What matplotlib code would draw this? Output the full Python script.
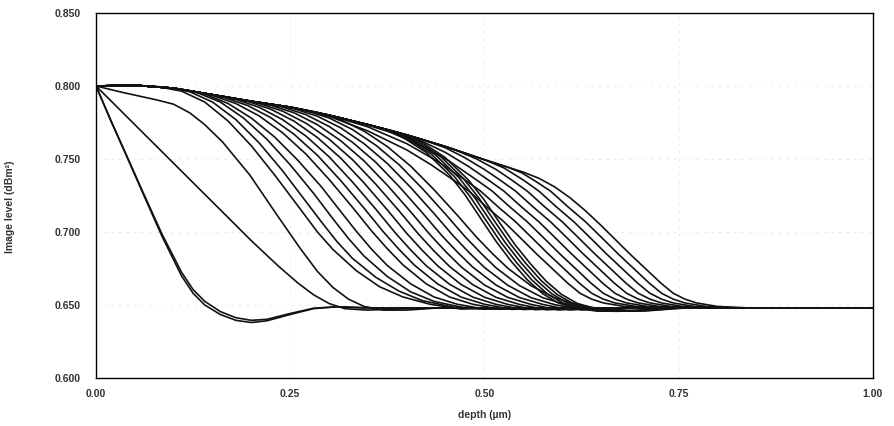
import matplotlib
matplotlib.use("Agg")
import matplotlib.pyplot as plt

# ---------------- data ----------------
x_ticks = [0.00, 0.25, 0.50, 0.75, 1.00]
y_ticks = [0.600, 0.650, 0.700, 0.750, 0.800, 0.850]
x_label = "depth (µm)"
y_label = "Image level (dBm²)"
floor_level = 0.648

# common upper envelope followed by every curve before it drops
envelope = [(0.00, 0.8000), (0.05, 0.8005), (0.10, 0.7985), (0.15, 0.7940), (0.20, 0.7895),
            (0.25, 0.7855), (0.30, 0.7800), (0.35, 0.7735), (0.40, 0.7665), (0.45, 0.7585),
            (0.50, 0.7495), (0.55, 0.7410)]

curve_a1 = [(0.00, 0.800), (0.02, 0.775), (0.041, 0.750), (0.06, 0.727), (0.085, 0.697), (0.11, 0.670),
            (0.125, 0.658), (0.14, 0.650), (0.16, 0.6435), (0.18, 0.6395), (0.20, 0.638), (0.22, 0.6392),
            (0.25, 0.6435), (0.28, 0.6475), (0.31, 0.6488), (0.35, 0.648)]
curve_a2 = [(0.00, 0.800), (0.02, 0.7755), (0.041, 0.7505), (0.06, 0.7278), (0.085, 0.6985), (0.11, 0.6725),
            (0.125, 0.6605), (0.14, 0.6525), (0.16, 0.6455), (0.18, 0.6413), (0.20, 0.6395), (0.22, 0.6402),
            (0.25, 0.6442), (0.28, 0.6478), (0.31, 0.6488), (0.35, 0.648)]
curve_b = [(0.00, 0.800), (0.05, 0.7735), (0.10, 0.747), (0.15, 0.7205), (0.20, 0.694), (0.235, 0.6765),
           (0.26, 0.665), (0.28, 0.657), (0.30, 0.651), (0.32, 0.6475), (0.35, 0.6465), (0.40, 0.6475),
           (0.45, 0.648)]
curve_c = [(0.00, 0.800), (0.035, 0.7955), (0.078, 0.7905), (0.10, 0.7875), (0.121, 0.7815), (0.14, 0.7735),
           (0.163, 0.7616), (0.198, 0.739), (0.233, 0.7116), (0.2625, 0.689), (0.285, 0.673), (0.305, 0.662),
           (0.325, 0.654), (0.345, 0.649), (0.37, 0.6465), (0.40, 0.6465), (0.44, 0.648)]

curve_d1 = [(0.08, 0.7995), (0.11, 0.7965), (0.14, 0.789), (0.17, 0.776), (0.20, 0.759), (0.23, 0.739),
            (0.2625, 0.716), (0.285, 0.700), (0.305, 0.688), (0.335, 0.6735), (0.365, 0.6625), (0.395, 0.6555),
            (0.43, 0.6505), (0.47, 0.6472), (0.52, 0.648)]
curve_d2 = [(0.09, 0.7992), (0.12, 0.7962), (0.15, 0.789), (0.18, 0.777), (0.21, 0.761), (0.24, 0.742),
            (0.27, 0.721), (0.29, 0.707), (0.31, 0.6935), (0.33, 0.682), (0.36, 0.669), (0.39, 0.6595),
            (0.42, 0.653), (0.46, 0.6485), (0.50, 0.6472), (0.55, 0.648)]
curve_d3 = [(0.10, 0.7985), (0.13, 0.7955), (0.16, 0.789), (0.19, 0.778), (0.22, 0.7635), (0.25, 0.746),
            (0.28, 0.7265), (0.305, 0.709), (0.325, 0.6955), (0.345, 0.6835), (0.375, 0.6695), (0.405, 0.659),
            (0.435, 0.6525), (0.47, 0.6485), (0.51, 0.6472), (0.56, 0.648)]
curve_d4 = [(0.11, 0.7977), (0.14, 0.7945), (0.17, 0.788), (0.20, 0.778), (0.23, 0.765), (0.26, 0.749),
            (0.29, 0.731), (0.315, 0.714), (0.335, 0.7005), (0.355, 0.688), (0.375, 0.677), (0.405, 0.6645),
            (0.435, 0.6555), (0.465, 0.6505), (0.50, 0.6472), (0.55, 0.648)]
curve_d5 = [(0.12, 0.7968), (0.15, 0.7935), (0.18, 0.7880), (0.21, 0.7795), (0.24, 0.7680), (0.27, 0.7535),
            (0.30, 0.7360), (0.33, 0.7170), (0.355, 0.7005), (0.375, 0.6885), (0.395, 0.6775), (0.425, 0.6645),
            (0.455, 0.6555), (0.485, 0.6505), (0.52, 0.6471), (0.57, 0.648)]
curve_d6 = [(0.135, 0.7954), (0.165, 0.7921), (0.195, 0.7867), (0.225, 0.7783), (0.255, 0.7669), (0.285, 0.7525),
            (0.315, 0.7352), (0.345, 0.7163), (0.37, 0.7000), (0.39, 0.6881), (0.41, 0.6772), (0.44, 0.6643),
            (0.47, 0.6554), (0.50, 0.6505), (0.535, 0.6470), (0.585, 0.648)]
curve_d7 = [(0.15, 0.7940), (0.18, 0.7908), (0.21, 0.7854), (0.24, 0.7770), (0.27, 0.7658), (0.30, 0.7515),
            (0.33, 0.7343), (0.36, 0.7157), (0.385, 0.6995), (0.405, 0.6877), (0.425, 0.6769), (0.455, 0.6642),
            (0.485, 0.6554), (0.515, 0.6504), (0.55, 0.6469), (0.60, 0.648)]
curve_d8 = [(0.165, 0.7927), (0.195, 0.7895), (0.225, 0.7841), (0.255, 0.7759), (0.285, 0.7647), (0.315, 0.7506),
            (0.345, 0.7336), (0.375, 0.7151), (0.40, 0.6990), (0.42, 0.6874), (0.44, 0.6767), (0.47, 0.6640),
            (0.50, 0.6553), (0.53, 0.6504), (0.565, 0.6468), (0.615, 0.648)]
curve_d9 = [(0.18, 0.7913), (0.21, 0.7881), (0.24, 0.7828), (0.27, 0.7746), (0.30, 0.7636), (0.33, 0.7496),
            (0.36, 0.7328), (0.39, 0.7145), (0.415, 0.6986), (0.435, 0.6870), (0.455, 0.6764), (0.485, 0.6639),
            (0.515, 0.6552), (0.545, 0.6504), (0.58, 0.6467), (0.63, 0.648)]
curve_d10 = [(0.195, 0.7900), (0.225, 0.7868), (0.255, 0.7816), (0.285, 0.7735), (0.315, 0.7625), (0.345, 0.7487),
             (0.375, 0.7320), (0.405, 0.7138), (0.43, 0.6981), (0.45, 0.6866), (0.47, 0.6761), (0.50, 0.6637),
             (0.53, 0.6552), (0.56, 0.6504), (0.595, 0.6466), (0.645, 0.648)]
curve_d11 = [(0.21, 0.7887), (0.24, 0.7856), (0.27, 0.7804), (0.30, 0.7723), (0.33, 0.7615), (0.36, 0.7478),
             (0.39, 0.7312), (0.42, 0.7132), (0.445, 0.6976), (0.465, 0.6863), (0.485, 0.6759), (0.515, 0.6636),
             (0.545, 0.6551), (0.575, 0.6504), (0.61, 0.6466), (0.66, 0.648)]
curve_d12 = [(0.225, 0.7875), (0.255, 0.7844), (0.285, 0.7793), (0.315, 0.7713), (0.345, 0.7605), (0.375, 0.7469),
             (0.405, 0.7305), (0.435, 0.7127), (0.46, 0.6972), (0.48, 0.6860), (0.50, 0.6757), (0.53, 0.6635),
             (0.56, 0.6550), (0.59, 0.6503), (0.625, 0.6466), (0.675, 0.648)]
curve_d13 = [(0.24, 0.7863), (0.27, 0.7832), (0.30, 0.7781), (0.33, 0.7702), (0.36, 0.7595), (0.39, 0.7461),
             (0.42, 0.7298), (0.45, 0.7121), (0.475, 0.6968), (0.495, 0.6857), (0.515, 0.6754), (0.545, 0.6633),
             (0.575, 0.6550), (0.605, 0.6503), (0.64, 0.6466), (0.69, 0.648)]
curve_d14 = [(0.255, 0.7850), (0.285, 0.7820), (0.315, 0.7769), (0.345, 0.7691), (0.375, 0.7585), (0.405, 0.7451),
             (0.435, 0.7290), (0.465, 0.7115), (0.49, 0.6963), (0.51, 0.6853), (0.53, 0.6752), (0.56, 0.6632),
             (0.59, 0.6549), (0.62, 0.6503), (0.655, 0.6466), (0.705, 0.648)]

band_1 = [(0.365, 0.7714), (0.395, 0.7648), (0.425, 0.7545), (0.455, 0.7390), (0.475, 0.7254), (0.495, 0.7094),
          (0.515, 0.6935), (0.535, 0.6795), (0.555, 0.6673), (0.575, 0.6577), (0.595, 0.6514), (0.615, 0.648),
          (0.645, 0.6458), (0.685, 0.646), (0.735, 0.648)]
band_2 = [(0.371, 0.7706), (0.401, 0.7639), (0.431, 0.7536), (0.461, 0.7381), (0.481, 0.7246), (0.501, 0.7087),
          (0.521, 0.6930), (0.541, 0.6792), (0.561, 0.6671), (0.581, 0.6576), (0.601, 0.6514), (0.621, 0.648),
          (0.651, 0.6458), (0.691, 0.646), (0.741, 0.648)]
band_3 = [(0.377, 0.7698), (0.407, 0.7631), (0.437, 0.7528), (0.467, 0.7373), (0.487, 0.7238), (0.507, 0.7080),
          (0.527, 0.6925), (0.547, 0.6789), (0.567, 0.6669), (0.587, 0.6575), (0.607, 0.6513), (0.627, 0.648),
          (0.657, 0.6458), (0.697, 0.646), (0.747, 0.648)]
band_4 = [(0.383, 0.7690), (0.413, 0.7623), (0.443, 0.7520), (0.473, 0.7365), (0.493, 0.7231), (0.513, 0.7073),
          (0.533, 0.6920), (0.553, 0.6786), (0.573, 0.6667), (0.593, 0.6574), (0.613, 0.6512), (0.633, 0.648),
          (0.663, 0.6457), (0.703, 0.646), (0.753, 0.648)]
band_5 = [(0.389, 0.7682), (0.419, 0.7615), (0.449, 0.7512), (0.479, 0.7358), (0.499, 0.7224), (0.519, 0.7067),
          (0.539, 0.6915), (0.559, 0.6783), (0.579, 0.6665), (0.599, 0.6573), (0.619, 0.6512), (0.639, 0.648),
          (0.669, 0.6457), (0.709, 0.646), (0.759, 0.648)]

fan_1 = [(0.26, 0.7844), (0.30, 0.7792), (0.35, 0.7692), (0.40, 0.7562), (0.43, 0.7465), (0.46, 0.7356),
         (0.48, 0.728), (0.503, 0.717), (0.525, 0.707), (0.545, 0.6966), (0.567, 0.685), (0.589, 0.674),
         (0.607, 0.665), (0.623, 0.658), (0.638, 0.654), (0.653, 0.6514), (0.68, 0.649), (0.72, 0.648)]
fan_2 = [(0.30, 0.780), (0.35, 0.772), (0.40, 0.7605), (0.44, 0.7483), (0.475, 0.7356),
         (0.495, 0.728), (0.518, 0.717), (0.54, 0.707), (0.56, 0.6966), (0.582, 0.685), (0.604, 0.674),
         (0.622, 0.665), (0.638, 0.658), (0.653, 0.654), (0.668, 0.6514), (0.695, 0.649), (0.735, 0.648)]
fan_3 = [(0.34, 0.7748), (0.38, 0.7682), (0.42, 0.7588), (0.455, 0.7484), (0.49, 0.7356),
         (0.51, 0.728), (0.533, 0.717), (0.555, 0.707), (0.575, 0.6966), (0.597, 0.685), (0.619, 0.674),
         (0.637, 0.665), (0.653, 0.658), (0.668, 0.654), (0.683, 0.6514), (0.71, 0.649), (0.75, 0.648)]
fan_4 = [(0.38, 0.7693), (0.42, 0.762), (0.45, 0.7544), (0.48, 0.7447), (0.505, 0.7356),
         (0.525, 0.728), (0.548, 0.717), (0.57, 0.707), (0.59, 0.6966), (0.612, 0.685), (0.634, 0.674),
         (0.652, 0.665), (0.668, 0.658), (0.683, 0.654), (0.698, 0.6514), (0.725, 0.649), (0.765, 0.648)]
fan_5 = [(0.42, 0.7633), (0.45, 0.7576), (0.475, 0.7508), (0.50, 0.7428), (0.52, 0.7356),
         (0.54, 0.728), (0.563, 0.717), (0.585, 0.707), (0.605, 0.6966), (0.627, 0.685), (0.649, 0.674),
         (0.667, 0.665), (0.683, 0.658), (0.698, 0.654), (0.713, 0.6514), (0.74, 0.649), (0.78, 0.648)]
fan_6 = [(0.46, 0.7567), (0.49, 0.750), (0.515, 0.7428), (0.535, 0.7356),
         (0.555, 0.728), (0.578, 0.717), (0.60, 0.707), (0.62, 0.6966), (0.642, 0.685), (0.664, 0.674),
         (0.682, 0.665), (0.698, 0.658), (0.713, 0.654), (0.728, 0.6514), (0.755, 0.649), (0.795, 0.648)]
fan_7 = [(0.50, 0.7495), (0.525, 0.7439), (0.55, 0.7356),
         (0.57, 0.728), (0.593, 0.717), (0.615, 0.707), (0.635, 0.6966), (0.657, 0.685), (0.679, 0.674),
         (0.697, 0.665), (0.713, 0.658), (0.728, 0.654), (0.743, 0.6514), (0.77, 0.649), (0.81, 0.648)]
fan_8 = [(0.53, 0.7444), (0.548, 0.7405), (0.565, 0.7350),
         (0.585, 0.728), (0.608, 0.717), (0.63, 0.707), (0.65, 0.6966), (0.672, 0.685), (0.694, 0.674),
         (0.712, 0.665), (0.728, 0.658), (0.743, 0.654), (0.758, 0.6514), (0.785, 0.649), (0.825, 0.648)]
fan_9 = [(0.55, 0.7410), (0.57, 0.7368), (0.59, 0.7310), (0.61, 0.7235), (0.63, 0.7145), (0.65, 0.7045),
         (0.665, 0.6966), (0.687, 0.685), (0.709, 0.674), (0.727, 0.665), (0.743, 0.658), (0.758, 0.654),
         (0.773, 0.6514), (0.80, 0.649), (0.84, 0.648)]

curves = [curve_a1, curve_a2, curve_b, curve_c,
          curve_d1, curve_d2, curve_d3, curve_d4, curve_d5, curve_d6, curve_d7,
          curve_d8, curve_d9, curve_d10, curve_d11, curve_d12, curve_d13, curve_d14,
          band_1, band_2, band_3, band_4, band_5,
          fan_1, fan_2, fan_3, fan_4, fan_5, fan_6, fan_7, fan_8, fan_9]


def full_curve(points):
    """Prefix the shared envelope before the curve's own points, extend on the floor."""
    start = points[0][0]
    pts = [p for p in envelope if p[0] < start - 1e-9] + list(points)
    if pts[-1][0] < x_ticks[-1]:
        pts.append((x_ticks[-1], floor_level))
    xs = [p[0] for p in pts]
    ys = [p[1] for p in pts]
    return xs, ys


# ---------------- figure ----------------
plt.rcParams['font.family'] = ['Liberation Sans', 'DejaVu Sans']
fig = plt.figure(figsize=(8.95, 4.26), dpi=100)
ax = fig.add_axes([96 / 895, 48 / 426, 777 / 895, 365 / 426])

for pts in curves:
    xs, ys = full_curve(pts)
    ax.plot(xs, ys, color='#121212', lw=1.2, solid_joinstyle='round', solid_capstyle='round')

ax.set_xlim(x_ticks[0], x_ticks[-1])
ax.set_ylim(y_ticks[0], y_ticks[-1])
ax.set_xticks(x_ticks)
ax.set_yticks(y_ticks)
ax.set_xticklabels([f"{v:.2f}" for v in x_ticks], fontweight='bold')
ax.set_yticklabels([f"{v:.3f}" for v in y_ticks], fontweight='bold')
ax.tick_params(axis='both', length=0, labelsize=7.5, colors='#333333')
ax.tick_params(axis='y', pad=11)
ax.tick_params(axis='x', pad=8)

ax.grid(True, color='#e8e8e8', lw=0.6, linestyle=(0, (3, 6)))
ax.set_axisbelow(True)

for s in ax.spines.values():
    s.set_color('black')
    s.set_linewidth(1.0)

ax.set_xlabel(x_label, fontsize=7.5, color='#333333', fontweight='bold')
ax.xaxis.set_label_coords(0.5, -0.088)
ax.set_ylabel(y_label, fontsize=7.5, color='#333333', fontweight='bold')
ax.yaxis.set_label_coords(-0.104, 0.47)

fig.savefig("out.png", dpi=100, facecolor='white')
